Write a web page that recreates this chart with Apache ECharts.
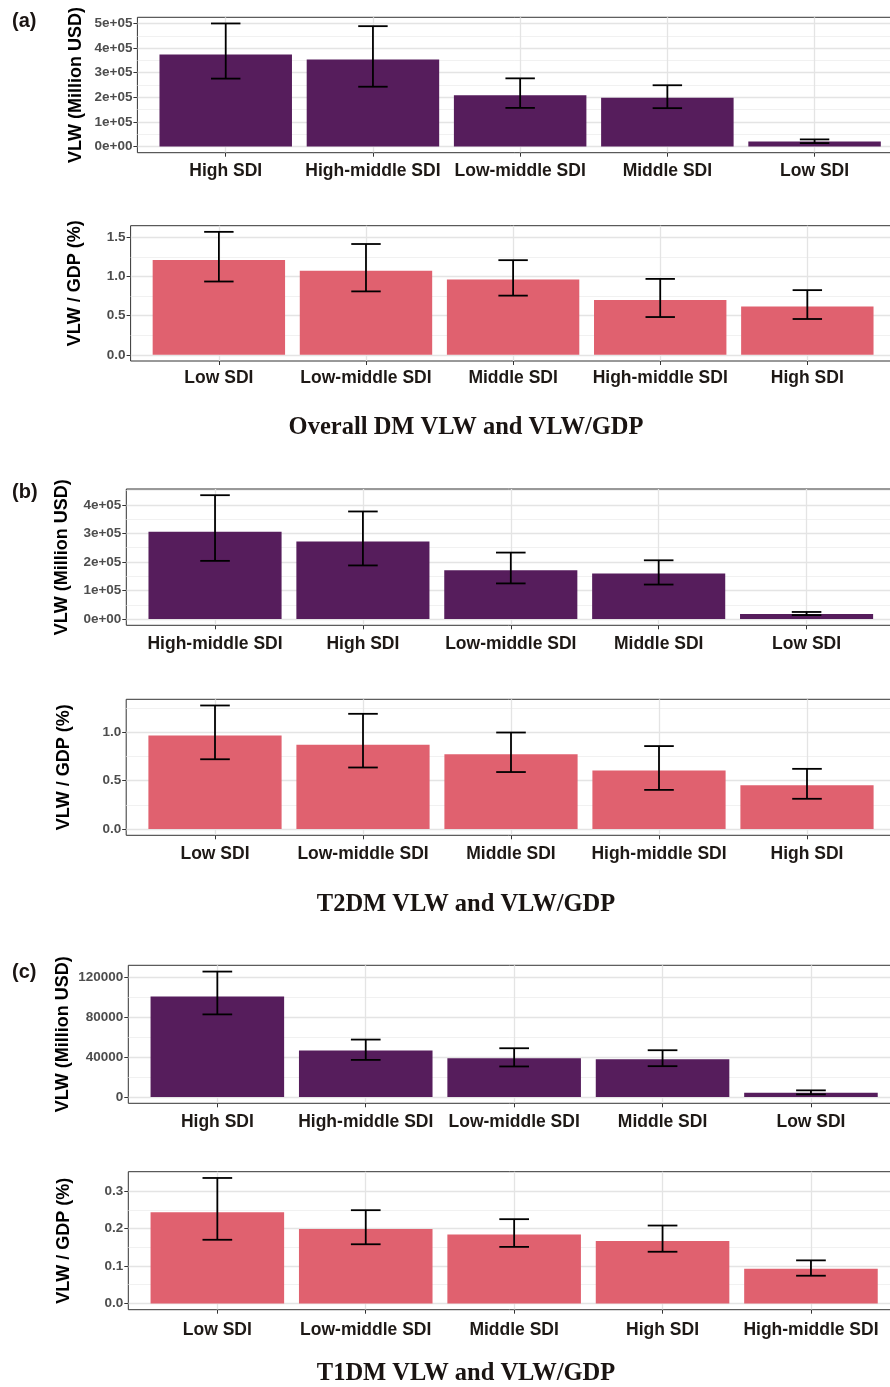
<!DOCTYPE html>
<html>
<head>
<meta charset="utf-8">
<script src="https://cdn.jsdelivr.net/npm/echarts@6/dist/echarts.min.js"></script>
<style>
  html, body { margin: 0; padding: 0; background: #ffffff; }
  #chart { width: 890px; height: 1387px; }
</style>
</head>
<body>
<div id="chart"></div>
<script>
// ---- (a) Overall DM ----
const catsA1 = ['High SDI', 'High-middle SDI', 'Low-middle SDI', 'Middle SDI', 'Low SDI'];
const vlwA     = [374000, 354000, 208000, 198000, 20000];
const vlwALow  = [276000, 243000, 157000, 156000, 14000];
const vlwAHigh = [500000, 489000, 277000, 249000, 29000];

const catsA2 = ['Low SDI', 'Low-middle SDI', 'Middle SDI', 'High-middle SDI', 'High SDI'];
const gdpA     = [1.21, 1.073, 0.96, 0.70, 0.616];
const gdpALow  = [0.935, 0.809, 0.755, 0.482, 0.457];
const gdpAHigh = [1.568, 1.413, 1.207, 0.968, 0.825];

// ---- (b) T2DM ----
const catsB1 = ['High-middle SDI', 'High SDI', 'Low-middle SDI', 'Middle SDI', 'Low SDI'];
const vlwB     = [306000, 272000, 171000, 160000, 18000];
const vlwBLow  = [204000, 188000, 125000, 121000, 14000];
const vlwBHigh = [434000, 377000, 233000, 206000, 25000];

const catsB2 = ['Low SDI', 'Low-middle SDI', 'Middle SDI', 'High-middle SDI', 'High SDI'];
const gdpB     = [0.966, 0.870, 0.772, 0.605, 0.452];
const gdpBLow  = [0.721, 0.636, 0.589, 0.405, 0.313];
const gdpBHigh = [1.276, 1.190, 0.997, 0.857, 0.622];

// ---- (c) T1DM ----
const catsC1 = ['High SDI', 'High-middle SDI', 'Low-middle SDI', 'Middle SDI', 'Low SDI'];
const vlwC     = [101000, 46700, 39000, 38000, 4300];
const vlwCLow  = [83000, 37300, 30700, 31000, 2700];
const vlwCHigh = [126000, 57700, 49000, 47000, 6700];

const catsC2 = ['Low SDI', 'Low-middle SDI', 'Middle SDI', 'High SDI', 'High-middle SDI'];
const gdpC     = [0.2435, 0.199, 0.184, 0.167, 0.0926];
const gdpCLow  = [0.170, 0.158, 0.151, 0.138, 0.074];
const gdpCHigh = [0.335, 0.249, 0.225, 0.208, 0.115];

// ---- axis ticks and labels ----
const ticksA1 = [0, 100000, 200000, 300000, 400000, 500000];
const labelsA1 = ['0e+00', '1e+05', '2e+05', '3e+05', '4e+05', '5e+05'];
const minorA1 = [50000, 150000, 250000, 350000, 450000];

const ticksA2 = [0, 0.5, 1.0, 1.5];
const labelsA2 = ['0.0', '0.5', '1.0', '1.5'];
const minorA2 = [0.25, 0.75, 1.25];

const ticksB1 = [0, 100000, 200000, 300000, 400000];
const labelsB1 = ['0e+00', '1e+05', '2e+05', '3e+05', '4e+05'];
const minorB1 = [50000, 150000, 250000, 350000, 450000];

const ticksB2 = [0, 0.5, 1.0];
const labelsB2 = ['0.0', '0.5', '1.0'];
const minorB2 = [0.25, 0.75, 1.25];

const ticksC1 = [0, 40000, 80000, 120000];
const labelsC1 = ['0', '40000', '80000', '120000'];
const minorC1 = [20000, 60000, 100000];

const ticksC2 = [0, 0.1, 0.2, 0.3];
const labelsC2 = ['0.0', '0.1', '0.2', '0.3'];
const minorC2 = [0.05, 0.15, 0.25];

const PURPLE = '#561d5c';
const PINK = '#e0616f';
const NAME_VLW = 'VLW (Million USD)';
const NAME_GDP = 'VLW / GDP (%)';

const panels = [
  { cats: catsA1, v: vlwA, lo: vlwALow, hi: vlwAHigh, ticks: ticksA1, labels: labelsA1, minor: minorA1,
    color: PURPLE, name: NAME_VLW, box: { left: 137.4, right: -12.9, top: 17.3, bottom: 152.7 }, labelGap: 9, nameGap: 52, namePad: 0 },
  { cats: catsA2, v: gdpA, lo: gdpALow, hi: gdpAHigh, ticks: ticksA2, labels: labelsA2, minor: minorA2,
    color: PINK, name: NAME_GDP, box: { left: 130.6, right: -5.6, top: 225.7, bottom: 361 }, labelGap: 8, nameGap: 47, namePad: 20 },
  { cats: catsB1, v: vlwB, lo: vlwBLow, hi: vlwBHigh, ticks: ticksB1, labels: labelsB1, minor: minorB1,
    color: PURPLE, name: NAME_VLW, box: { left: 126.3, right: -5.3, top: 489, bottom: 625.3 }, labelGap: 10, nameGap: 55, namePad: 0 },
  { cats: catsB2, v: gdpB, lo: gdpBLow, hi: gdpBHigh, ticks: ticksB2, labels: labelsB2, minor: minorB2,
    color: PINK, name: NAME_GDP, box: { left: 126.2, right: -5.8, top: 699.3, bottom: 835.3 }, labelGap: 10, nameGap: 53, namePad: 0 },
  { cats: catsC1, v: vlwC, lo: vlwCLow, hi: vlwCHigh, ticks: ticksC1, labels: labelsC1, minor: minorC1,
    color: PURPLE, name: NAME_VLW, box: { left: 128.3, right: -10, top: 965.3, bottom: 1103.3 }, labelGap: 9.5, nameGap: 56, namePad: 0 },
  { cats: catsC2, v: gdpC, lo: gdpCLow, hi: gdpCHigh, ticks: ticksC2, labels: labelsC2, minor: minorC2,
    color: PINK, name: NAME_GDP, box: { left: 128.3, right: -10, top: 1171.7, bottom: 1309.7 }, labelGap: 11, nameGap: 55, namePad: 0 }
];

const W = 890, H = 1387;
const SANS = 'Liberation Sans, Arial, sans-serif';
const SERIF = 'Liberation Serif, Times New Roman, serif';
const GRID_MAJOR = '#e4e4e4';
const GRID_MINOR = '#ededed';
const FRAME_COLOR = '#333333';
const CAT_POS = [0, 1, 2, 3, 4];

// one bar with its error bar, positioned through the axes
function renderBar(params, api) {
  const x = api.value(0);
  const base = api.coord([x, 0]);
  const top = api.coord([x, api.value(1)]);
  const lo = api.coord([x, api.value(2)]);
  const hi = api.coord([x, api.value(3)]);
  const barW = api.size([0.9, 0])[0];
  const capW = api.size([0.2, 0])[0];
  const fill = api.visual('color');
  const ink = { stroke: '#000000', lineWidth: 1.8 };
  return {
    type: 'group',
    children: [
      { type: 'rect', shape: { x: base[0] - barW / 2, y: top[1], width: barW, height: base[1] - top[1] }, style: { fill: fill } },
      { type: 'line', shape: { x1: hi[0], y1: hi[1], x2: lo[0], y2: lo[1] }, style: ink },
      { type: 'line', shape: { x1: hi[0] - capW / 2, y1: hi[1], x2: hi[0] + capW / 2, y2: hi[1] }, style: ink },
      { type: 'line', shape: { x1: lo[0] - capW / 2, y1: lo[1], x2: lo[0] + capW / 2, y2: lo[1] }, style: ink }
    ]
  };
}

function labelFor(ticks, labels) {
  return function (val) {
    let best = 0;
    for (let k = 1; k < ticks.length; k++) {
      if (Math.abs(ticks[k] - val) < Math.abs(ticks[best] - val)) best = k;
    }
    return labels[best];
  };
}

const grid = [], xAxis = [], yAxis = [], series = [];

panels.forEach(function (p, i) {
  const dataMax = Math.max.apply(null, p.hi);
  const yMin = -0.05 * dataMax;
  const yMax = 1.05 * dataMax;

  grid.push({
    left: p.box.left, right: p.box.right, top: p.box.top, bottom: H - p.box.bottom,
    show: true, borderColor: FRAME_COLOR, borderWidth: 1, backgroundColor: 'transparent',
    containLabel: false, outerBoundsMode: 'none'
  });

  xAxis.push({
    gridIndex: i, type: 'value', position: 'bottom', min: -0.6, max: 4.6,
    axisLine: { show: false, onZero: false },
    axisTick: { show: true, customValues: CAT_POS, length: 4, lineStyle: { color: FRAME_COLOR, width: 1 } },
    axisLabel: {
      customValues: CAT_POS, margin: p.labelGap,
      formatter: (function (cats) { return function (v) { return cats[Math.round(v)]; }; })(p.cats),
      fontFamily: SANS, fontWeight: 'bold', fontSize: 17.5, color: '#1e1916'
    },
    splitLine: { show: true, lineStyle: { color: GRID_MAJOR, width: 1.3 } }
  });

  // major ticks, labels and grid lines
  yAxis.push({
    gridIndex: i, type: 'value', position: 'left', min: yMin, max: yMax,
    axisLine: { show: false, onZero: false },
    axisTick: { show: true, customValues: p.ticks, length: 4, lineStyle: { color: FRAME_COLOR, width: 1 } },
    axisLabel: {
      customValues: p.ticks, margin: 5, formatter: labelFor(p.ticks, p.labels),
      fontFamily: SANS, fontWeight: 'bold', fontSize: 13.5, color: '#4d4d4d'
    },
    splitLine: { show: true, lineStyle: { color: GRID_MAJOR, width: 1.3 } },
    name: p.name, nameLocation: 'middle', nameGap: p.nameGap, nameMoveOverlap: false,
    nameTextStyle: {
      fontFamily: SANS, fontWeight: 'bold', fontSize: 18, color: '#000000',
      padding: [0, 0, 0, p.namePad]
    }
  });

  // minor grid lines
  yAxis.push({
    gridIndex: i, type: 'value', position: 'left', min: yMin, max: yMax,
    axisLine: { show: false, onZero: false },
    axisTick: { show: false, customValues: p.minor },
    axisLabel: { show: false, customValues: p.minor },
    splitLine: { show: true, lineStyle: { color: GRID_MINOR, width: 0.8 } }
  });

  series.push({
    type: 'custom', xAxisIndex: i, yAxisIndex: 2 * i,
    itemStyle: { color: p.color },
    encode: { x: 0, y: 1 },
    renderItem: renderBar,
    data: p.v.map(function (val, k) { return [k, val, p.lo[k], p.hi[k]]; }),
    silent: true
  });
});

const textItem = function (txt, x, y, size, family, align) {
  return {
    type: 'text', x: x, y: y,
    style: { text: txt, fontFamily: family, fontWeight: 'bold', fontSize: size, fill: '#1a1412',
             textAlign: align, textVerticalAlign: 'middle' }
  };
};

const graphic = [
  textItem('(a)', 12, 21, 20, SANS, 'left'),
  textItem('(b)', 12, 492, 20, SANS, 'left'),
  textItem('(c)', 12, 972, 20, SANS, 'left'),
  textItem('Overall DM VLW and VLW/GDP', 466, 428, 24.5, SERIF, 'center'),
  textItem('T2DM VLW and VLW/GDP', 466, 905, 24.5, SERIF, 'center'),
  textItem('T1DM VLW and VLW/GDP', 466, 1374, 24.5, SERIF, 'center')
];

const chart = echarts.init(document.getElementById('chart'), null, { renderer: 'canvas', width: W, height: H });
chart.setOption({
  animation: false,
  backgroundColor: '#ffffff',
  grid: grid,
  xAxis: xAxis,
  yAxis: yAxis,
  series: series,
  graphic: graphic
});
</script>
</body>
</html>
